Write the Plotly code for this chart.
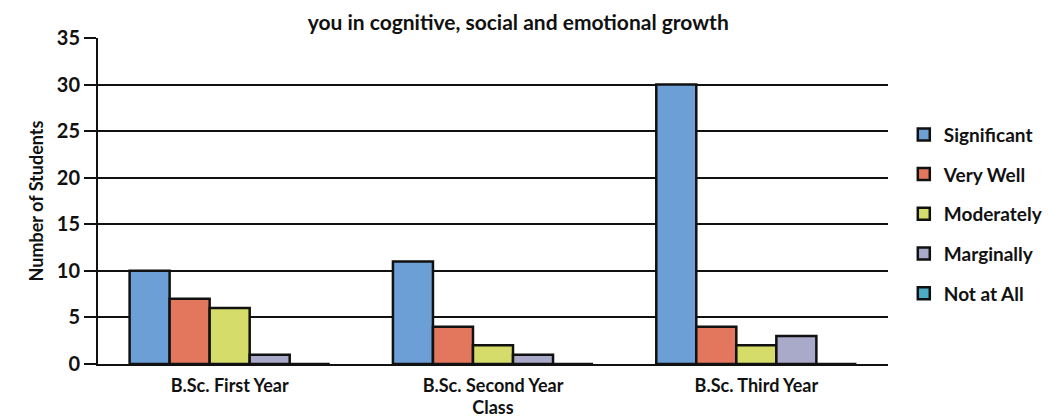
import plotly.graph_objects as go

categories = ["B.Sc. First Year", "B.Sc. Second Year", "B.Sc. Third Year"]
series_names = ["Significant", "Very Well", "Moderately", "Marginally", "Not at All"]
significant = [10, 11, 30]
very_well = [7, 4, 4]
moderately = [6, 2, 2]
marginally = [1, 1, 3]
not_at_all = [0, 0, 0]
y_ticks = [0, 5, 10, 15, 20, 25, 30, 35]

values = [significant, very_well, moderately, marginally, not_at_all]
colors = ["#6b9fd6", "#e2775e", "#d6dc6a", "#a9a9c9", "#4bacc6"]

font_family = "Lato, 'Open Sans', sans-serif"

fig = go.Figure()
for name, vals, col in zip(series_names, values, colors):
    fig.add_trace(go.Bar(
        x=categories, y=vals, name="<b>" + name + "</b>", legendgroup=name,
        marker=dict(color=col, line=dict(color="#111111", width=2.5)),
    ))

fig.update_layout(
    width=1063, height=418,
    margin=dict(l=90, r=183, t=30, b=62),
    paper_bgcolor="white", plot_bgcolor="white",
    barmode="group", bargap=0.24, bargroupgap=0,
    font=dict(family=font_family, color="#111111"),
    title=dict(text="<b>you in cognitive, social and emotional growth</b>",
               x=0.48, xanchor="center", y=0.982, yanchor="top", pad=dict(t=0),
               font=dict(size=21, color="#111111")),
    legend=dict(x=1.02, xanchor="left", y=0.46, yanchor="middle",
                font=dict(size=19, color="#111111"), tracegroupgap=12,
                itemwidth=30, bgcolor="rgba(0,0,0,0)"),
    xaxis=dict(showline=True, linecolor="#111111", linewidth=2,
               title=dict(text="<b>Class</b>", font=dict(size=18), standoff=0),
               tickfont=dict(size=18), ticks="outside", ticklen=4,
               tickcolor="rgba(0,0,0,0)",
               tickvals=categories,
               ticktext=["<b>" + c + "</b>" for c in categories]),
    yaxis=dict(range=[0, 35], tickvals=y_ticks,
               ticktext=["<b>%d</b>" % t for t in y_ticks],
               showgrid=True, gridcolor="#111111", gridwidth=2,
               showline=True, linecolor="#111111", linewidth=2,
               ticks="outside", ticklen=12, tickcolor="#111111", tickwidth=2,
               tickfont=dict(size=20),
               title=dict(text="<b>Number of Students</b>", font=dict(size=18), standoff=8),
               zeroline=False),
)

fig.write_html("out.html")
